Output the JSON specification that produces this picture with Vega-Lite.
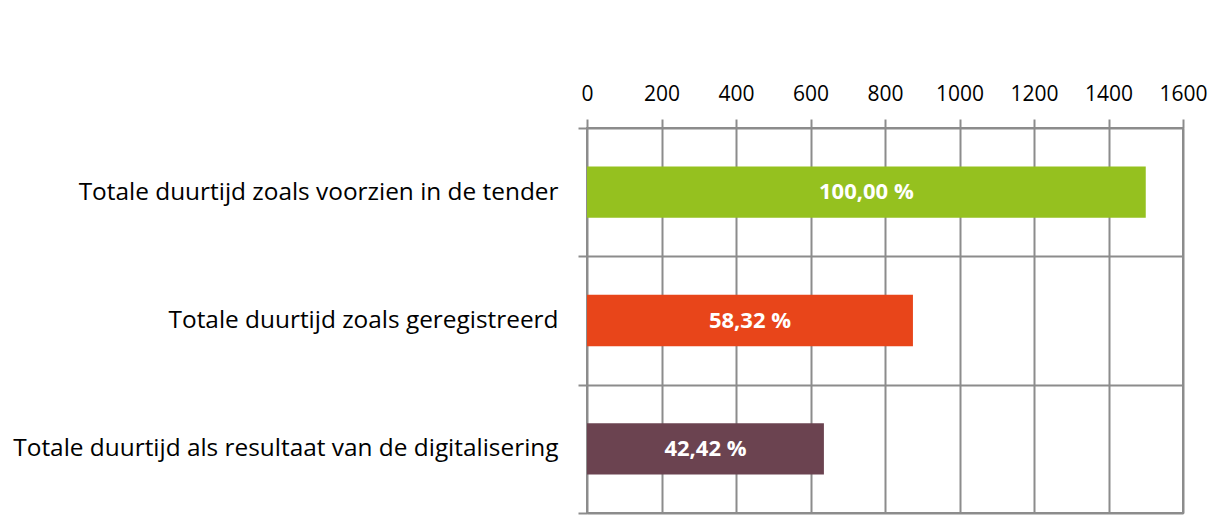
{
  "$schema": "https://vega.github.io/schema/vega-lite/v6.json",
  "autosize": "none",
  "width": 596,
  "height": 385,
  "padding": {"left": 587, "top": 128, "right": 39, "bottom": 13},
  "background": "white",
  "config": {
    "view": {"stroke": "#8c8c8c", "strokeWidth": 2},
    "font": "Open Sans"
  },
  "data": {
    "values": [
      {"categorie": "Totale duurtijd zoals voorzien in de tender", "duur": 1500, "label": "100,00 %", "kleur": "#95c11f"},
      {"categorie": "Totale duurtijd zoals geregistreerd", "duur": 875, "label": "58,32 %", "kleur": "#e8451a"},
      {"categorie": "Totale duurtijd als resultaat van de digitalisering", "duur": 636, "label": "42,42 %", "kleur": "#6b4350"}
    ]
  },
  "layer": [
    {
      "mark": {"type": "bar", "height": {"band": 0.4}},
      "encoding": {
        "y": {
          "field": "categorie", "type": "nominal", "sort": null, "title": null,
          "scale": {"paddingInner": 0, "paddingOuter": 0},
          "axis": {
            "tickBand": "extent", "domain": false, "grid": true,
            "gridColor": "#8c8c8c", "gridWidth": 2,
            "tickColor": "#8c8c8c", "tickWidth": 2, "tickSize": 9,
            "labelPadding": 20, "labelFontSize": 24.4, "labelColor": "#000000",
            "labelFont": "Open Sans", "labelLimit": 700
          }
        },
        "x": {
          "field": "duur", "type": "quantitative", "title": null,
          "scale": {"domain": [0, 1600], "nice": false},
          "axis": {
            "orient": "top", "values": [0, 200, 400, 600, 800, 1000, 1200, 1400, 1600],
            "format": "d",
            "domain": false, "grid": true, "gridColor": "#8c8c8c", "gridWidth": 2,
            "tickColor": "#8c8c8c", "tickWidth": 2, "tickSize": 9,
            "labelPadding": 15, "labelFontSize": 21, "labelColor": "#000000",
            "labelFont": "Open Sans", "labelFlush": false
          }
        },
        "color": {"field": "kleur", "type": "nominal", "scale": null}
      }
    },
    {
      "mark": {"type": "text", "color": "white", "fontWeight": "bold", "fontSize": 22, "align": "center", "baseline": "middle", "font": "Open Sans"},
      "encoding": {
        "y": {"field": "categorie", "type": "nominal", "sort": null},
        "x": {"field": "duur", "type": "quantitative", "scale": {"domain": [0, 3200], "nice": false}, "axis": null},
        "text": {"field": "label"}
      }
    }
  ],
  "resolve": {"scale": {"x": "independent"}, "axis": {"x": "independent"}}
}
